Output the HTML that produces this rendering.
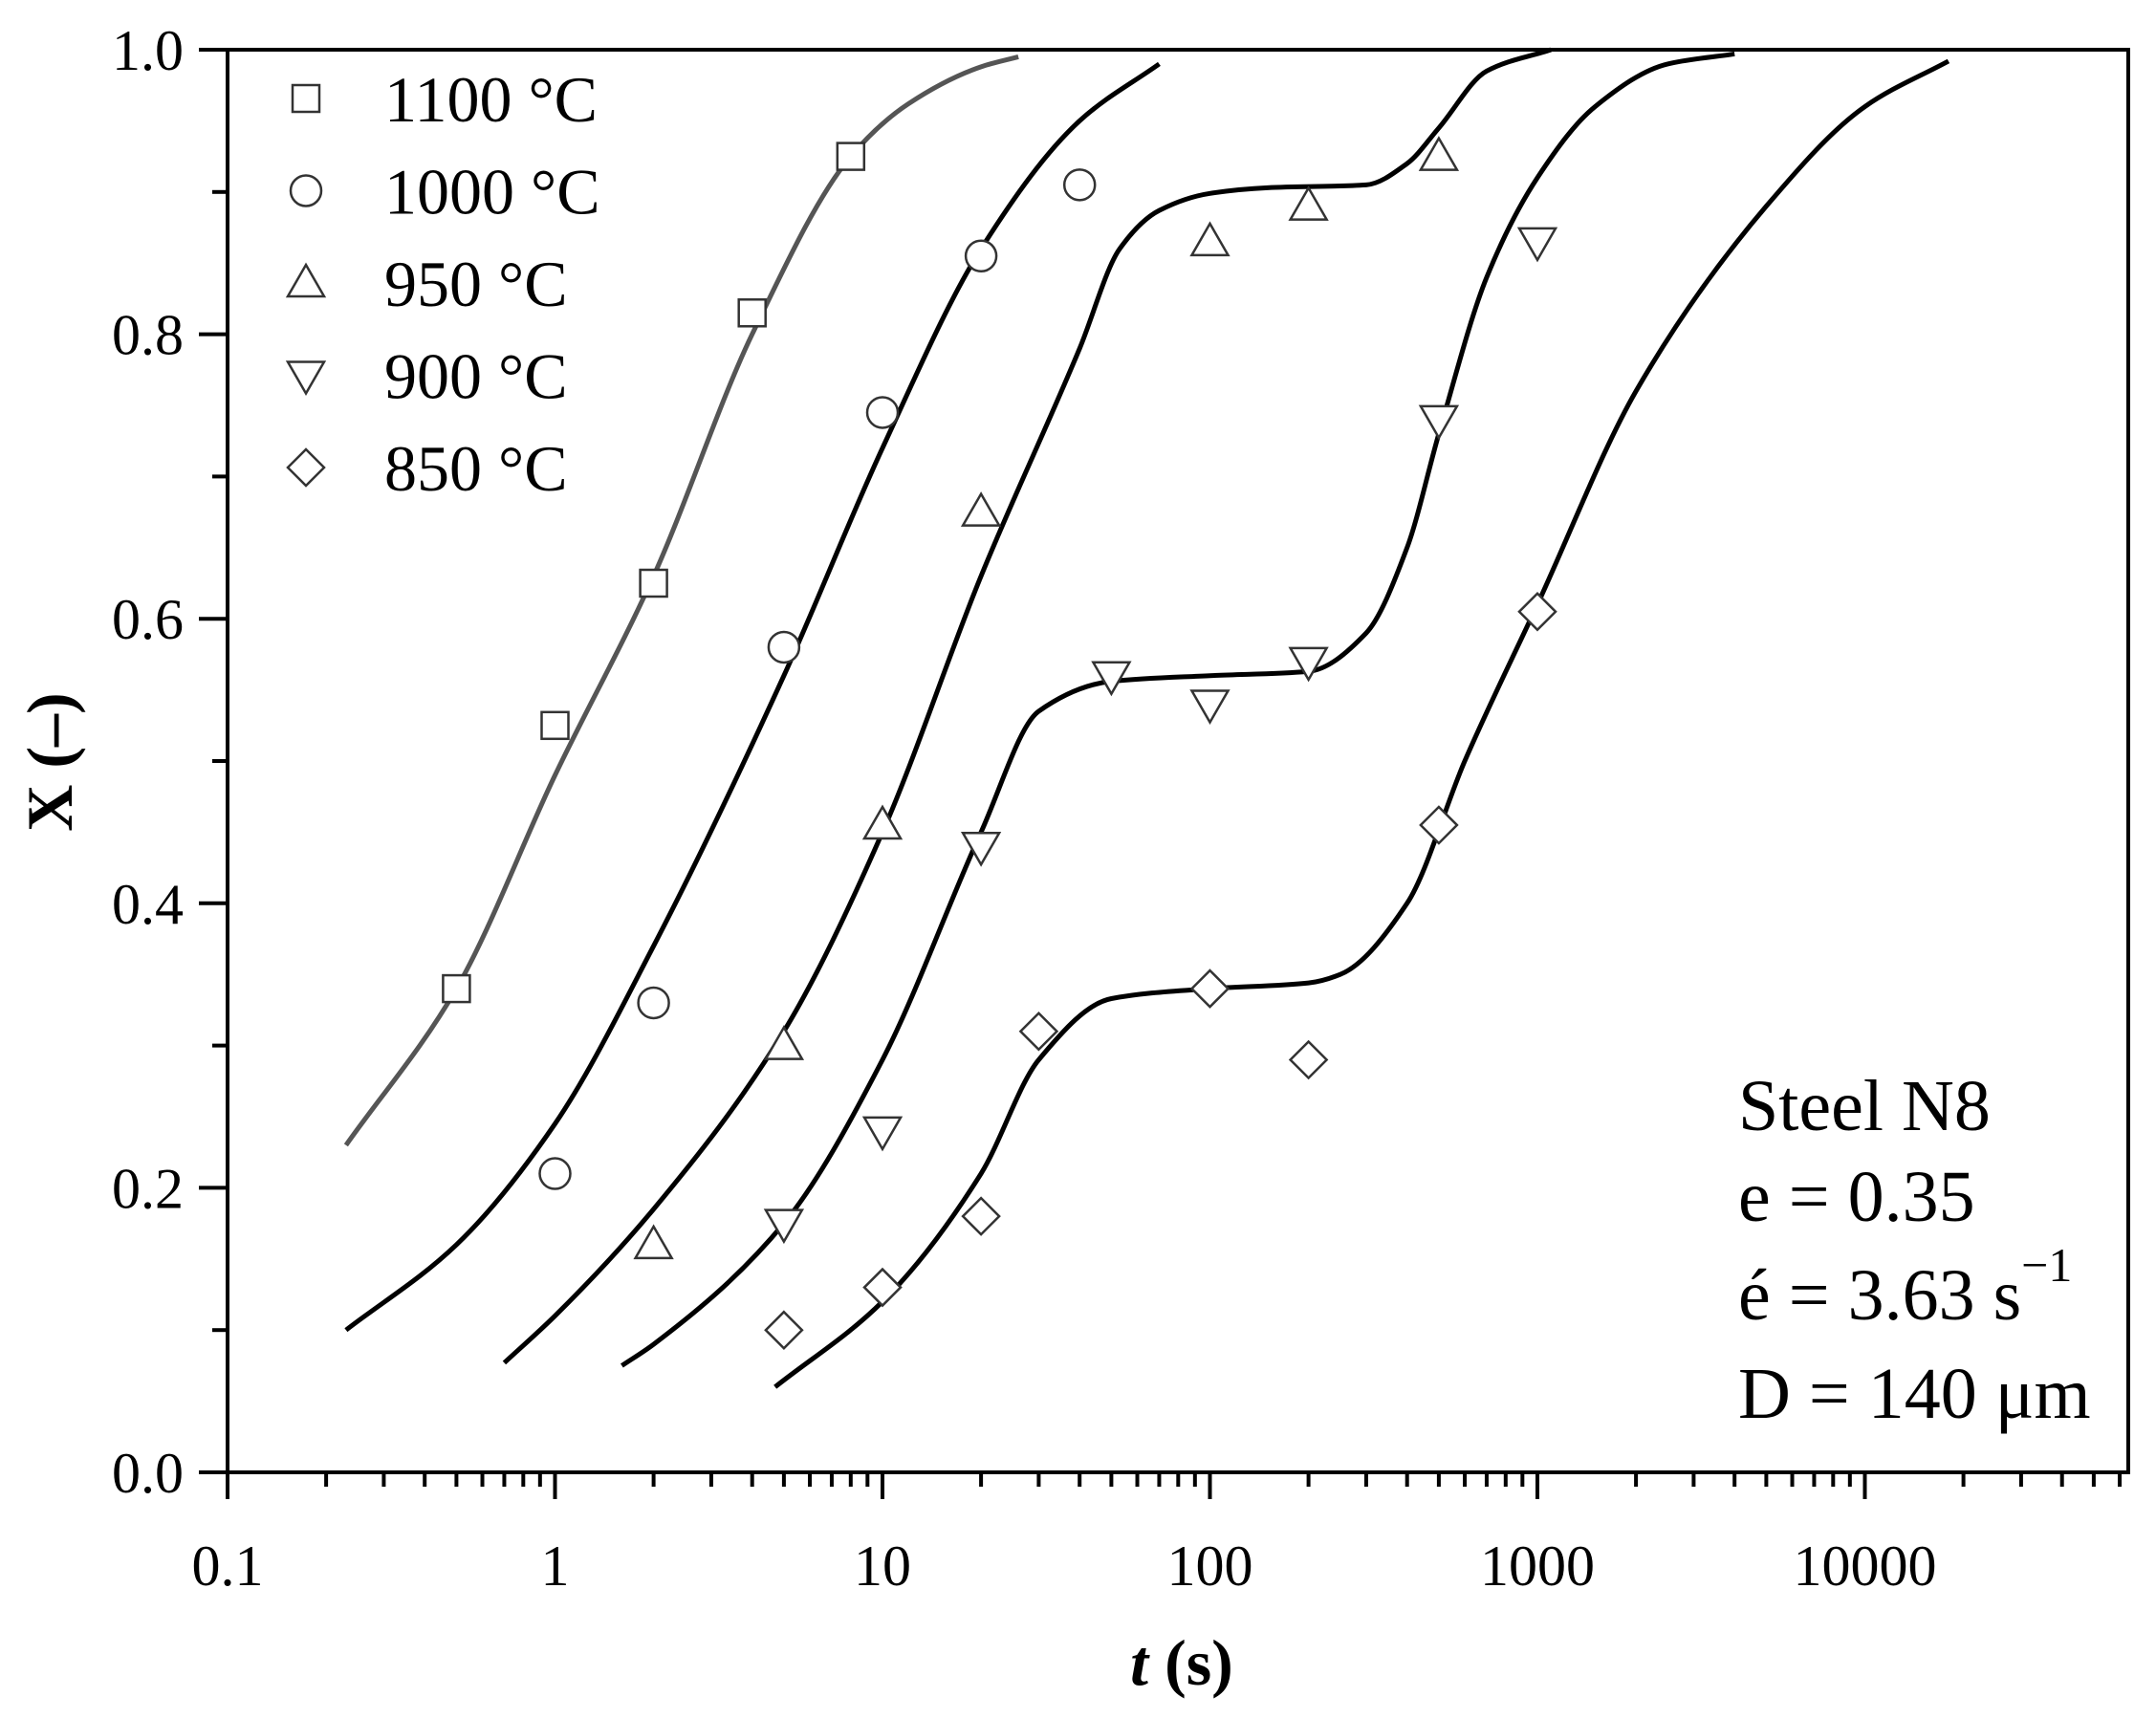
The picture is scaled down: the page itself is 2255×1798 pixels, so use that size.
<!DOCTYPE html>
<html><head><meta charset="utf-8"><style>html,body{margin:0;padding:0;background:#fff}svg{display:block}text{font-family:"Liberation Serif",serif;fill:#000}</style></head>
<body>
<svg id="s" width="2255" height="1798" viewBox="0 0 2255 1798" xmlns="http://www.w3.org/2000/svg"></svg>
<script>
const S=document.getElementById('s');let h='';
const X0=238,DEC=342.5,Y0=1540,YH=1488,XR=2226,YT=52;
const fx=t=>X0+DEC*(Math.log10(t)+1), fy=v=>Y0-YH*v;
h+=`<rect x="${X0}" y="${YT}" width="${XR-X0}" height="${Y0-YT}" fill="none" stroke="#000" stroke-width="4"/>`;
for(let i=0;i<=10;i++){const y=fy(i/10);const L=i%2==0?30:16;h+=`<line x1="${X0-L}" x2="${X0}" y1="${y}" y2="${y}" stroke="#000" stroke-width="4"/>`;
 if(i%2==0)h+=`<text x="${X0-46}" y="${y+21}" font-size="60" text-anchor="end">${(i/10).toFixed(1)}</text>`;}
const lab=['0.1','1','10','100','1000','10000'];
for(let d=-1;d<=4;d++){for(let k=1;k<10;k++){const t=k*Math.pow(10,d);const x=fx(t);if(x>XR)break;const L=k==1?28:15;
 h+=`<line x1="${x}" x2="${x}" y1="${Y0}" y2="${Y0+L}" stroke="#000" stroke-width="4"/>`;
 if(k==1)h+=`<text x="${x}" y="${Y0+118}" font-size="60" text-anchor="middle">${lab[d+1]}</text>`;}}
h+=`<text x="1236" y="1762" font-size="68" font-weight="bold" text-anchor="middle"><tspan font-style="italic">t</tspan> (s)</text>`;
h+=`<text transform="translate(75,797) rotate(-90)" font-size="68" font-weight="bold" text-anchor="middle">X (–)</text>`;
const cv=[
['#555',[[0.23,0.23],[0.5,0.34],[1,0.49],[2,0.63],[4,0.80],[8,0.925],[12,0.962],[20,0.988],[26,0.995]]],
['#000',[[0.23,0.10],[0.5,0.16],[1,0.245],[2,0.37],[5,0.56],[10,0.72],[20,0.86],[40,0.95],[70,0.99]]],
['#000',[[0.7,0.077],[1,0.11],[2,0.185],[5,0.31],[10,0.45],[20,0.63],[40,0.79],[53,0.86],[70,0.887],[100,0.899],[150,0.903],[300,0.905],[400,0.92],[500,0.945],[700,0.985],[1100,1.0]]],
['#000',[[1.6,0.075],[2,0.09],[5,0.175],[10,0.29],[20,0.45],[30,0.535],[50,0.556],[100,0.56],[200,0.563],[300,0.59],[400,0.65],[500,0.73],[700,0.84],[1000,0.91],[1500,0.96],[2500,0.99],[4000,0.997]]],
['#000',[[4.7,0.06],[10,0.12],[20,0.21],[30,0.29],[50,0.333],[100,0.34],[200,0.344],[250,0.35],[400,0.40],[600,0.50],[1000,0.61],[2000,0.76],[5000,0.89],[10000,0.96],[18000,0.992]]]];
function mono(p){const n=p.length,dx=[],m=[],t=[];for(let i=0;i<n-1;i++){dx.push(p[i+1][0]-p[i][0]);m.push((p[i+1][1]-p[i][1])/dx[i]);}
 t[0]=m[0];t[n-1]=m[n-2];for(let i=1;i<n-1;i++){t[i]=m[i-1]*m[i]<=0?0:3*(dx[i-1]+dx[i])/((2*dx[i]+dx[i-1])/m[i-1]+(dx[i]+2*dx[i-1])/m[i]);}
 let d=`M${p[0][0]},${p[0][1]}`;for(let i=0;i<n-1;i++){const h3=dx[i]/3;d+=` C${p[i][0]+h3},${p[i][1]+t[i]*h3} ${p[i+1][0]-h3},${p[i+1][1]-t[i+1]*h3} ${p[i+1][0]},${p[i+1][1]}`;}return d;}
for(const [c,pts] of cv){const p=pts.map(([t,v])=>[fx(t),fy(v)]);
 h+=`<path d="${mono(p)}" fill="none" stroke="${c}" stroke-width="5" stroke-linejoin="round"/>`;}
function mk(type,x,y){const r=14,st='fill="#fff" stroke="#333" stroke-width="2.5"';
 if(type==0)return `<rect x="${x-r}" y="${y-r}" width="${2*r}" height="${2*r}" ${st}/>`;
 if(type==1)return `<circle cx="${x}" cy="${y}" r="${r+2}" ${st}/>`;
 if(type==2)return `<polygon points="${x},${y-r-5} ${x+r+5},${y+r} ${x-r-5},${y+r}" ${st}/>`;
 if(type==3)return `<polygon points="${x},${y+r+5} ${x+r+5},${y-r} ${x-r-5},${y-r}" ${st}/>`;
 return `<polygon points="${x},${y-r-5} ${x+r+5},${y} ${x},${y+r+5} ${x-r-5},${y}" ${st}/>`;}
const data=[
[[0.5,0.34],[1,0.525],[2,0.625],[4,0.815],[8,0.925]],
[[1,0.21],[2,0.33],[5,0.58],[10,0.745],[20,0.855],[40,0.905]],
[[2,0.16],[5,0.30],[10,0.455],[20,0.675],[100,0.865],[200,0.89],[500,0.925]],
[[5,0.175],[10,0.24],[20,0.44],[50,0.56],[100,0.54],[200,0.57],[500,0.74],[1000,0.865]],
[[5,0.10],[10,0.13],[20,0.18],[30,0.31],[100,0.34],[200,0.29],[500,0.455],[1000,0.605]]];
data.forEach((ds,i)=>ds.forEach(([t,v])=>h+=mk(i,fx(t),fy(v))));
const names=['1100 °C','1000 °C','950 °C','900 °C','850 °C'];
names.forEach((n,i)=>{const y=103+96.5*i;h+=mk(i,320,y);h+=`<text x="402" y="${y+24}" font-size="68">${n}</text>`;});
h+=`<text x="1818" y="1182" font-size="76">Steel N8</text>`;
h+=`<text x="1818" y="1277" font-size="76">e = 0.35</text>`;
h+=`<text x="1818" y="1380" font-size="76">é = 3.63 s<tspan font-size="50" dy="-40">−1</tspan></text>`;
h+=`<text x="1818" y="1483" font-size="76">D = 140 μm</text>`;
S.innerHTML=h;
</script>
</body></html>
